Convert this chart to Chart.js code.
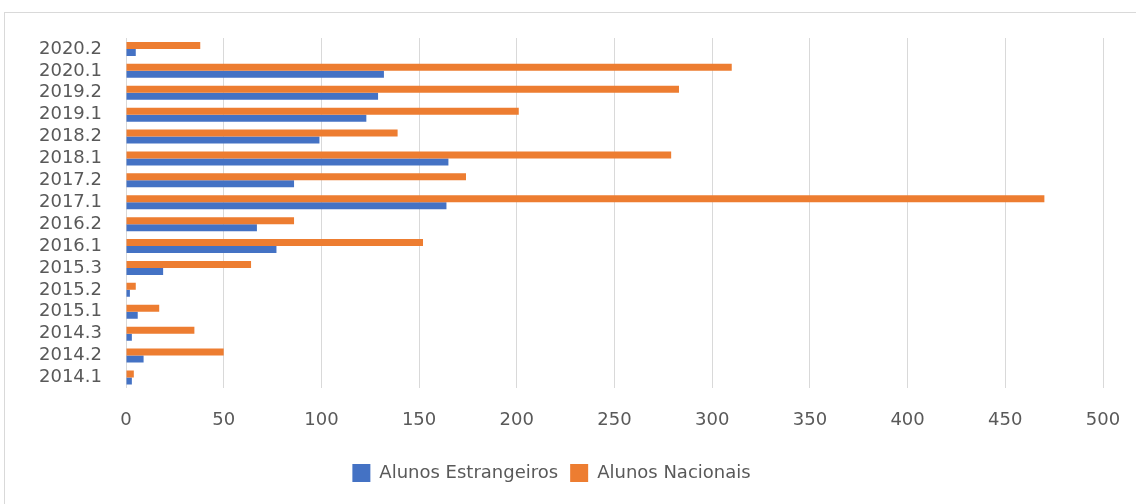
<!DOCTYPE html>
<html>
<head>
<meta charset="utf-8">
<script src="https://cdn.jsdelivr.net/npm/chart.js@4/dist/chart.umd.min.js"></script>
<style>
    html, body { margin: 0; padding: 0; background: #fff; }
    #wrap { position: relative; width: 1136px; height: 504px; overflow: hidden; }
    #frame { position: absolute; left: 4px; top: 12px; width: 1140px; height: 500px; border: 1px solid #d9d9d9; box-sizing: border-box; }
    #chart-alunos { position: absolute; left: 0; top: 0; }
</style>
</head>
<body>
<div id="wrap">
    <div id="frame"></div>
    <canvas id="chart-alunos" width="1136" height="504"></canvas>
</div>
<script>
    // semestres, de cima para baixo como no grafico
    var semestres = ["2020.2", "2020.1", "2019.2", "2019.1", "2018.2", "2018.1", "2017.2", "2017.1",
        "2016.2", "2016.1", "2015.3", "2015.2", "2015.1", "2014.3", "2014.2", "2014.1"];
    var alunosNacionais = [38, 310, 283, 201, 139, 279, 174, 470, 86, 152, 64, 5, 17, 35, 50, 4];
    var alunosEstrangeiros = [5, 132, 129, 123, 99, 165, 86, 164, 67, 77, 19, 2, 6, 3, 9, 3];
    var xTicks = [0, 50, 100, 150, 200, 250, 300, 350, 400, 450, 500];

    var textColor = "#595959";
    var fontFamily = "'DejaVu Sans', 'Open Sans', sans-serif";

    var chartAlunos = new Chart(document.getElementById("chart-alunos"), {
        type: 'bar',
        data: {
            labels: semestres,
            datasets: [{
                label: "Alunos Nacionais",
                backgroundColor: "#ED7D31",
                borderWidth: 0,
                data: alunosNacionais
            }, {
                label: "Alunos Estrangeiros",
                backgroundColor: "#4472C4",
                borderWidth: 0,
                data: alunosEstrangeiros
            }]
        },
        options: {
            indexAxis: 'y',
            responsive: false,
            animation: false,
            devicePixelRatio: 1,
            categoryPercentage: 0.64,
            barPercentage: 1.0,
            layout: {
                padding: { top: 38, right: 33, bottom: 12, left: 0 }
            },
            scales: {
                x: {
                    min: 0,
                    max: 500,
                    afterBuildTicks: function (scale) {
                        scale.ticks = xTicks.map(function (v) { return { value: v }; });
                    },
                    afterFit: function (scale) { scale.paddingRight = 0; },
                    grid: { color: "#d9d9d9", lineWidth: 1, drawTicks: false },
                    border: { display: false },
                    ticks: { color: textColor, padding: 21, font: { family: fontFamily, size: 18 } }
                },
                y: {
                    afterFit: function (scale) { scale.width = 126; },
                    grid: { display: false, drawTicks: false },
                    border: { display: false },
                    ticks: { color: textColor, padding: 24, autoSkip: false, font: { family: fontFamily, size: 18 } }
                }
            },
            plugins: {
                tooltip: { enabled: false },
                legend: {
                    position: 'bottom',
                    reverse: true,
                    labels: {
                        color: textColor,
                        boxWidth: 18,
                        boxHeight: 18,
                        padding: 12,
                        font: { family: fontFamily, size: 18 }
                    }
                }
            }
        }
    });
</script>
</body>
</html>
